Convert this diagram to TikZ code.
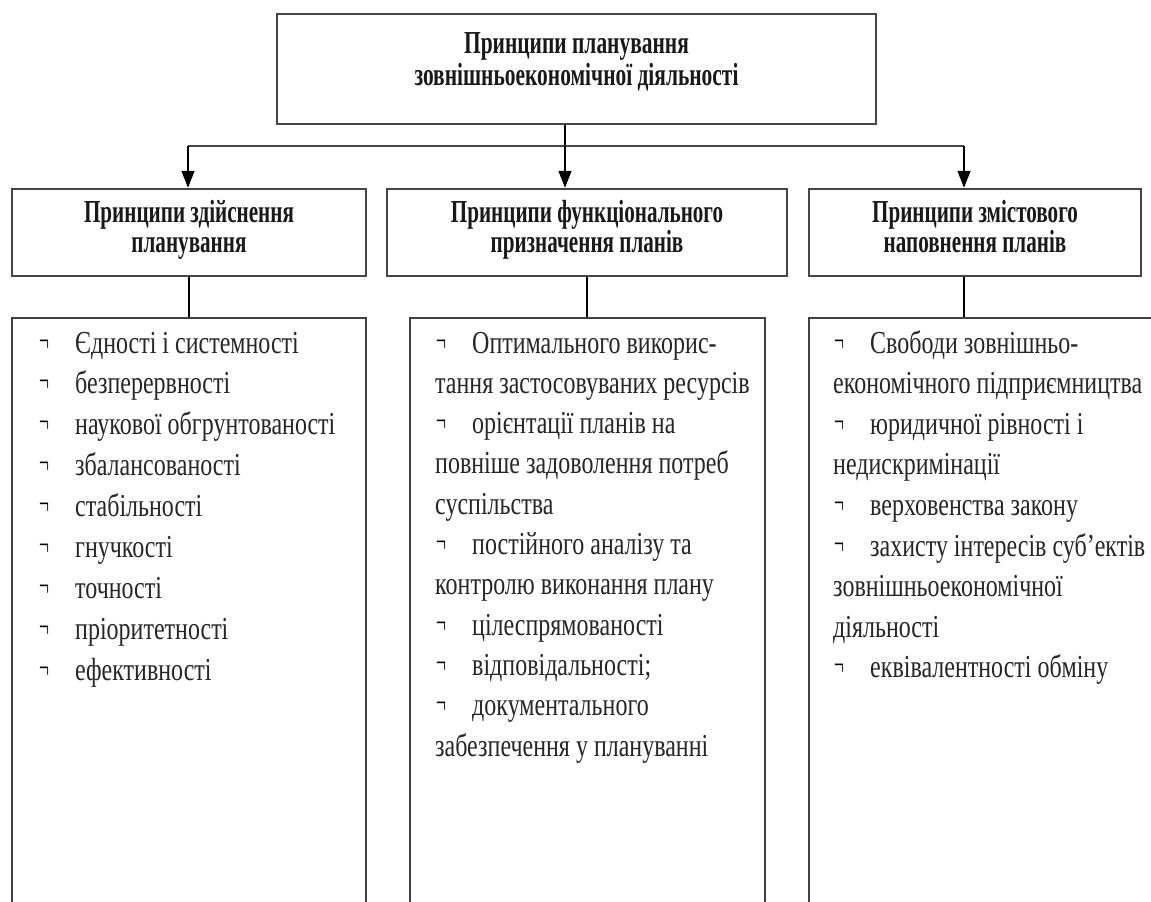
\documentclass[tikz,border=0pt]{standalone}
\usepackage{fontspec}
\setmainfont{Liberation Serif}
\usepackage{graphicx}
\usetikzlibrary{arrows.meta}
\newcommand\sqz[2]{\scalebox{#1}[1]{#2}}
\tikzset{
  hbox/.style={draw=black!72, line width=2.5pt, inner sep=0pt, fill=white},
  lbox/.style={draw=black!75, line width=1.6pt, inner sep=0pt},
  conn/.style={draw=black, line width=1.4pt},
  hconn/.style={draw=black!72, line width=2.2pt},
  arr/.style={conn, -{Triangle[width=13pt,length=17pt]}},
  htxt/.style={anchor=base, inner sep=0pt, text=black!90, font=\fontsize{32}{32}\selectfont\bfseries},
  btxt/.style={anchor=base west, inner sep=0pt, text=black!85, font=\fontsize{32}{40}\selectfont},
  bul/.style={anchor=base west, inner sep=0pt, text=black, font=\fontsize{32}{36}\selectfont},
}
\begin{document}
\begin{tikzpicture}[x=1pt,y=-1pt]
\useasboundingbox (0,0) rectangle (1151,902);
\clip (0,0) rectangle (1151,902);
\fill[white] (0,0) rectangle (1151,902);

% boxes
\node[hbox, minimum width=599pt, minimum height=110pt] (top) at (576.5,69) {};
\node[hbox, minimum width=354pt, minimum height=87pt] (h1) at (189,232.5) {};
\node[hbox, minimum width=400pt, minimum height=87pt] (h2) at (587,232.5) {};
\node[hbox, minimum width=332pt, minimum height=87pt] (h3) at (975,232.5) {};
\node[lbox, minimum width=354pt, minimum height=612pt] (c1) at (189,624) {};
\node[lbox, minimum width=355pt, minimum height=612pt] (c2) at (587.5,624) {};
\node[lbox, minimum width=371pt, minimum height=612pt] (c3) at (994.5,624) {};

% header texts
\node[htxt] (top-a) at (576.5,53) {\sqz{0.67}{Принципи планування}};
\node[htxt] (top-b) at (576.5,85) {\sqz{0.67}{зовнішньоекономічної діяльності}};
\node[htxt] (h1-a) at (189,222) {\sqz{0.66}{Принципи здійснення}};
\node[htxt] (h1-b) at (189,252) {\sqz{0.66}{планування}};
\node[htxt] (h2-a) at (587,222) {\sqz{0.66}{Принципи функціонального}};
\node[htxt] (h2-b) at (587,252) {\sqz{0.66}{призначення планів}};
\node[htxt] (h3-a) at (975,222) {\sqz{0.66}{Принципи змістового}};
\node[htxt] (h3-b) at (975,252) {\sqz{0.66}{наповнення планів}};

% connectors
\coordinate (j1) at (188,146);
\coordinate (j2) at (565,146);
\coordinate (j3) at (964,146);
\coordinate (j4) at (964,300);
\draw[conn] (top.south -| j2) -- (j2);
\draw[hconn] (j1) -- (j3);
\draw[arr] (j1) -- (j1 |- h1.north);
\draw[arr] (j2) -- (j2 |- h2.north);
\draw[arr] (j3) -- (j3 |- h3.north);
\draw[conn] (h1.south) -- (h1.south |- c1.north);
\draw[conn] (h2.south) -- (h2.south |- c2.north);
\draw[conn] (h3.south -| j4) -- (j4 |- c3.north);

% left column
\foreach \t [count=\i from 0] in {Єдності і системності, безперервності, наукової обгрунтованості, збалансованості, стабільності, гнучкості, точності, пріоритетності, ефективності}{
  \node[bul] (lb\i) at (39,{351+40.9*\i}) {\sqz{0.55}{¬}};
  \node[btxt] (lt\i) at (75,{353+40.9*\i}) {\sqz{0.75}{\t}};
}

% middle column
\foreach \b/\t [count=\i from 0] in {1/Оптимального викорис-, 0/тання застосовуваних ресурсів, 1/орієнтації планів на, 0/повніше задоволення потреб, 0/суспільства, 1/постійного аналізу та, 0/контролю виконання плану, 1/цілеспрямованості, 1/відповідальності;, 1/документального, 0/забезпечення у плануванні}{
  \ifnum\b=1
    \node[bul] (mb\i) at (436,{351+40.3*\i}) {\sqz{0.55}{¬}};
    \node[btxt] (mt\i) at (472,{353+40.3*\i}) {\sqz{0.75}{\t}};
  \else
    \node[btxt] (mt\i) at (435,{353+40.3*\i}) {\sqz{0.75}{\t}};
  \fi
}

% right column
\foreach \b/\t [count=\i from 0] in {1/Свободи зовнішньо-, 0/економічного підприємництва, 1/юридичної рівності і, 0/недискримінації, 1/верховенства закону, 1/захисту інтересів суб’ектів, 0/зовнішньоекономічної, 0/діяльності, 1/еквівалентності обміну}{
  \ifnum\b=1
    \node[bul] (rb\i) at (834,{351+40.6*\i}) {\sqz{0.55}{¬}};
    \node[btxt] (rt\i) at (870,{353+40.6*\i}) {\sqz{0.75}{\t}};
  \else
    \node[btxt] (rt\i) at (833,{353+40.6*\i}) {\sqz{0.75}{\t}};
  \fi
}
\end{tikzpicture}
\end{document}
